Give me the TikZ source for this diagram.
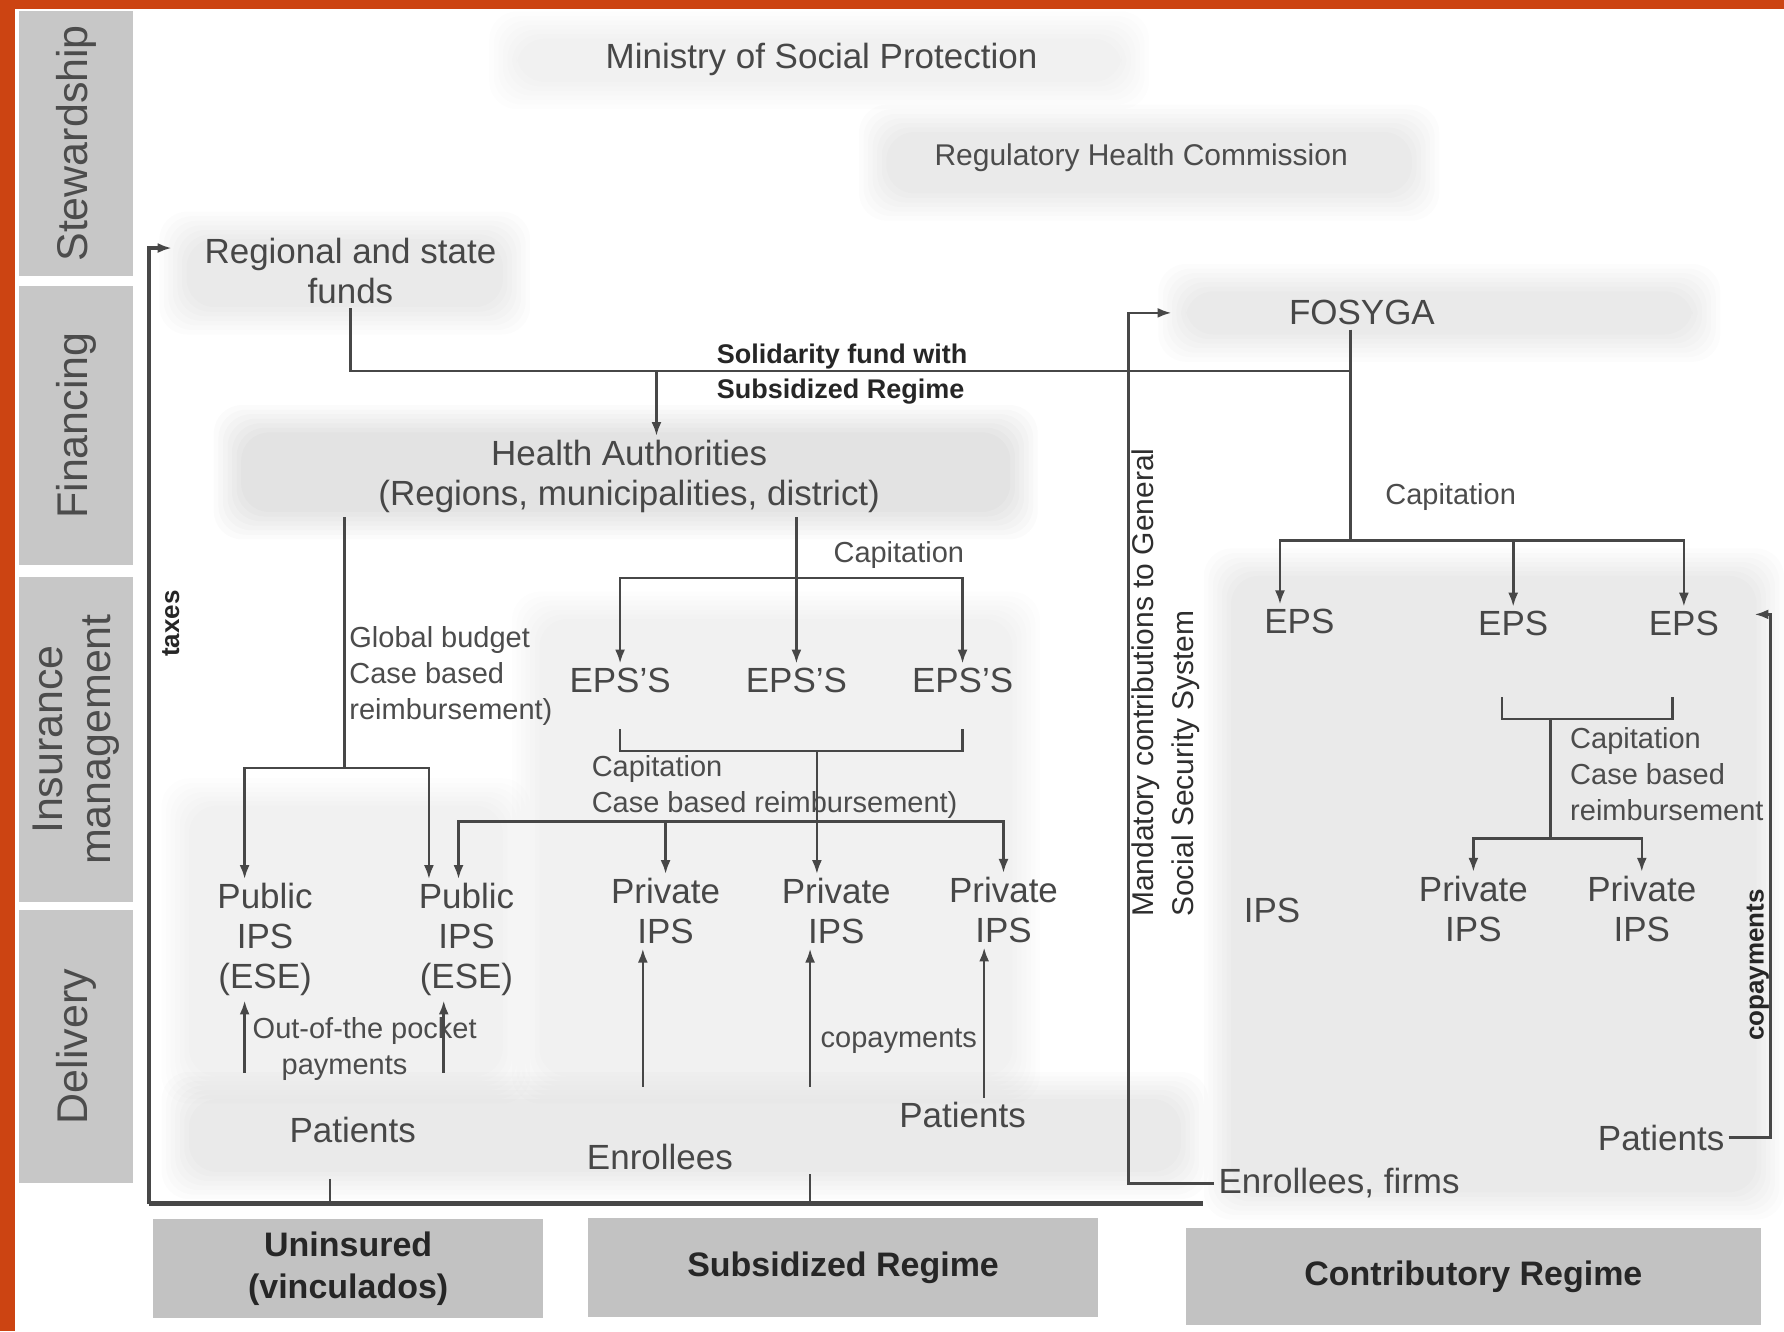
\documentclass[tikz,border=0pt]{standalone}
\usepackage{fontspec}
\setmainfont{Liberation Sans}
\usetikzlibrary{arrows.meta,calc}
\definecolor{frameorange}{RGB}{204,68,18}
\newcommand{\greyblob}[5]{%
  \foreach \i in {0,4,...,24}{\fill[black,opacity=#5,rounded corners=14pt] (#1+\i,#2+\i) rectangle (#3-\i,#4-\i);}}

\begin{document}
\begin{tikzpicture}[x=0.02cm,y=-0.02cm,
    lbl/.style={text=black!72,font=\fontsize{17.5}{20}\selectfont,align=center,inner sep=2pt},
    note/.style={text=black!70,font=\fontsize{14.5}{18}\selectfont,align=left,inner sep=1pt},
    boldnote/.style={text=black!85,font=\bfseries\fontsize{13.5}{17.5}\selectfont,align=left,inner sep=1pt},
    side/.style={fill=black!22,rotate=90,minimum height=2cm,text=black!70,font=\fontsize{21.5}{24}\selectfont,align=center},
    regime/.style={fill=black!24,minimum height=1.75cm,text=black!85,font=\bfseries\fontsize{17}{21}\selectfont,align=center},
    ln/.style={draw=black!72,line width=1.3pt},
    arr/.style={ln,-{Latex[length=7pt,width=5pt]}}]
  \useasboundingbox (0,0) rectangle (1568,1170);
  \fill[white] (0,0) rectangle (1568,1170);
  \fill[frameorange] (0,0) rectangle (13,1170);
  \fill[frameorange] (0,0) rectangle (1568,8);

  \greyblob{430}{10}{1010}{96}{0.006}
  \greyblob{755}{92}{1265}{194}{0.011}
  \greyblob{140}{186}{466}{294}{0.011}
  \greyblob{1018}{232}{1512}{318}{0.012}
  \greyblob{188}{356}{912}{474}{0.014}
  \greyblob{450}{520}{914}{970}{0.009}
  \greyblob{142}{684}{466}{970}{0.007}
  \greyblob{142}{942}{1062}{1054}{0.013}
  \greyblob{1058}{482}{1568}{1072}{0.010}

  \node[side,minimum width=4.66cm] (stew) at (67,126) {Stewardship};
  \node[side,minimum width=4.92cm] (fin) at (67,374) {Financing};
  \node[side,minimum width=5.7cm] (ins) at (67,650) {Insurance\\management};
  \node[side,minimum width=4.8cm] (deliv) at (67,920) {Delivery};

  \draw
    (722,52) node[lbl] (ministry) {Ministry of Social Protection}
    (1003,139) node[note,align=center,font=\fontsize{15}{18}\selectfont] (commission) {Regulatory Health Commission}
    (308,238) node[lbl] (funds) {Regional and state\\funds}
    (1197,275) node[lbl,minimum width=6.68cm] (fosyga) {FOSYGA}
    (628,329) node[boldnote,anchor=west] (solidarity) {Solidarity fund with\\Subsidized Regime}
    (553,419) node[lbl] (ha) {Health Authorities\\(Regions, municipalities, district)}
    (790,488) node[note] (capa) {Capitation}
    (545,598) node[lbl] (epsa) {EPS'S}
    (700,598) node[lbl] (epsb) {EPS'S}
    (846,598) node[lbl] (epsc) {EPS'S}
    (305,594) node[note,anchor=west] (global) {Global budget\\Case based\\reimbursement)}
    (518,692) node[note,anchor=west] (capb) {Capitation\\Case based reimbursement)}
    (233,826) node[lbl] (pub1) {Public\\IPS\\(ESE)}
    (410,826) node[lbl] (pub2) {Public\\IPS\\(ESE)}
    (585,801) node[lbl] (priv1) {Private\\IPS}
    (735,801) node[lbl] (priv2) {Private\\IPS}
    (882,800) node[lbl] (priv3) {Private\\IPS}
    (220,922) node[note,anchor=west] (pocket) {Out-of-the pocket\\\quad payments}
    (310,993) node[lbl] (pats1) {Patients}
    (580,1017) node[lbl] (enr) {Enrollees}
    (790,915) node[note] (copa) {copayments}
    (846,980) node[lbl] (pats2) {Patients}
    (993,808) node[note,text=black!82,font=\fontsize{15}{20}\selectfont,rotate=90,anchor=north west] (mand) {Mandatory contributions to General\\Social Security System}
    (1275,437) node[note] (capc) {Capitation}
    (1142,546) node[lbl] (eps1) {EPS}
    (1330,548) node[lbl] (eps2) {EPS}
    (1480,548) node[lbl] (eps3) {EPS}
    (1378,680) node[note,anchor=west] (capd) {Capitation\\Case based\\reimbursement}
    (1118,800) node[lbl] (ips) {IPS}
    (1295,799) node[lbl] (pr1) {Private\\IPS}
    (1443,799) node[lbl] (pr2) {Private\\IPS}
    (1460,1000) node[lbl] (pats3) {Patients}
    (1177,1040) node[lbl] (enf) {Enrollees, firms}
    (1545,848) node[boldnote,font=\bfseries\fontsize{13}{15}\selectfont,rotate=90] (copb) {copayments}
    (150,548) node[boldnote,font=\bfseries\fontsize{13}{15}\selectfont,rotate=90] (taxes) {taxes};

  \node[regime,minimum width=6.86cm] (unins) at (306,1115) {Uninsured\\(vinculados)};
  \node[regime,minimum width=8.96cm] (subs) at (741,1114) {Subsidized Regime};
  \node[regime,minimum width=10.1cm,minimum height=1.7cm] (contr) at (1295,1122) {Contributory Regime};

  \coordinate (solj) at (1187,326);
  \coordinate (hj) at (577,326);
  \coordinate (capj) at (1187,475);
  \coordinate (gbj) at (303,675);
  \coordinate (epj) at (700,508);
  \coordinate (ipj) at (718,660);
  \coordinate (ipk) at (718,722);
  \coordinate (en1) at (565,955);
  \coordinate (en2) at (712,955);
  \coordinate (tl) at (131,1058);
  \coordinate (tr) at (1057,1058);
  \coordinate (mj) at (992,275);
  \coordinate (rj) at (1363,632);
  \coordinate (rk) at (1363,737);
  \coordinate (cpj) at (1556,540);
  \coordinate (cpk) at (1542,540);

  \begin{scope}
    \draw[ln] (funds.south) |- (solj);
    \draw[ln] (solj |- fosyga.south) -- (capj);
    \draw[arr] (hj) -- (hj |- ha.north);
    \draw[ln] (gbj |- ha.south) -- (gbj);
    \draw[arr] (gbj) -| ($(pub1.north)+(-18,0)$);
    \draw[arr] (gbj) -| ($(pub2.north)+(-33,0)$);
    \draw[arr] (epj |- ha.south) -- (epsb.north);
    \draw[arr] (epj) -| (epsa.north);
    \draw[arr] (epj) -| (epsc.north);
    \draw[ln] ($(epsa.south)+(0,28)$) |- (ipj) -| ($(epsc.south)+(0,28)$);
    \draw[arr] (ipj) -- (ipj |- priv2.north);
    \draw[arr] (ipk) -| ($(pub2.north)+(-7,0)$);
    \draw[arr] (ipk) -| (priv1.north);
    \draw[arr] (ipk) -| (priv3.north);
    \draw[arr] (en1) -- (en1 |- priv1.south);
    \draw[arr] (en2) -- (en2 |- priv2.south);
    \draw[arr] ($(pats2.north)+(19,0)$) -- ($(priv3.south)+(-17,0)$);
    \draw[arr] ($(pats1.north)+(-95,-35)$) -- ($(pub1.south)+(-18,0)$);
    \draw[arr] ($(pats1.north)+(80,-35)$) -- ($(pub2.south)+(-20,0)$);
    \draw[ln,line width=2.4pt] (tr) -- (tl);
    \draw[arr,line width=2pt] (tl) |- ($(funds.west)+(-25,-20)$);
    \draw[ln] ($(pats1.south)+(-20,28)$) -- ($(pats1.south)+(-20,48)$);
    \draw[ln] (en2 |- enr.south) -- (en2 |- tl);
    \draw[arr] (enf.west) -| (mj) -- (fosyga.west);
    \draw[arr] (capj) -| ($(eps1.north)+(-17,0)$);
    \draw[arr] (capj) -| (eps2.north);
    \draw[arr] (capj) -| (eps3.north);
    \draw[ln] ($(eps2.south)+(-10,50)$) |- (rj) -| ($(eps3.south)+(-10,50)$);
    \draw[ln] (rj) -- (rk);
    \draw[arr] (rk) -| (pr1.north);
    \draw[arr] (rk) -| (pr2.north);
    \draw[arr] (pats3.east) -| (cpj) -- (cpk);
  \end{scope}
\end{tikzpicture}
\end{document}
